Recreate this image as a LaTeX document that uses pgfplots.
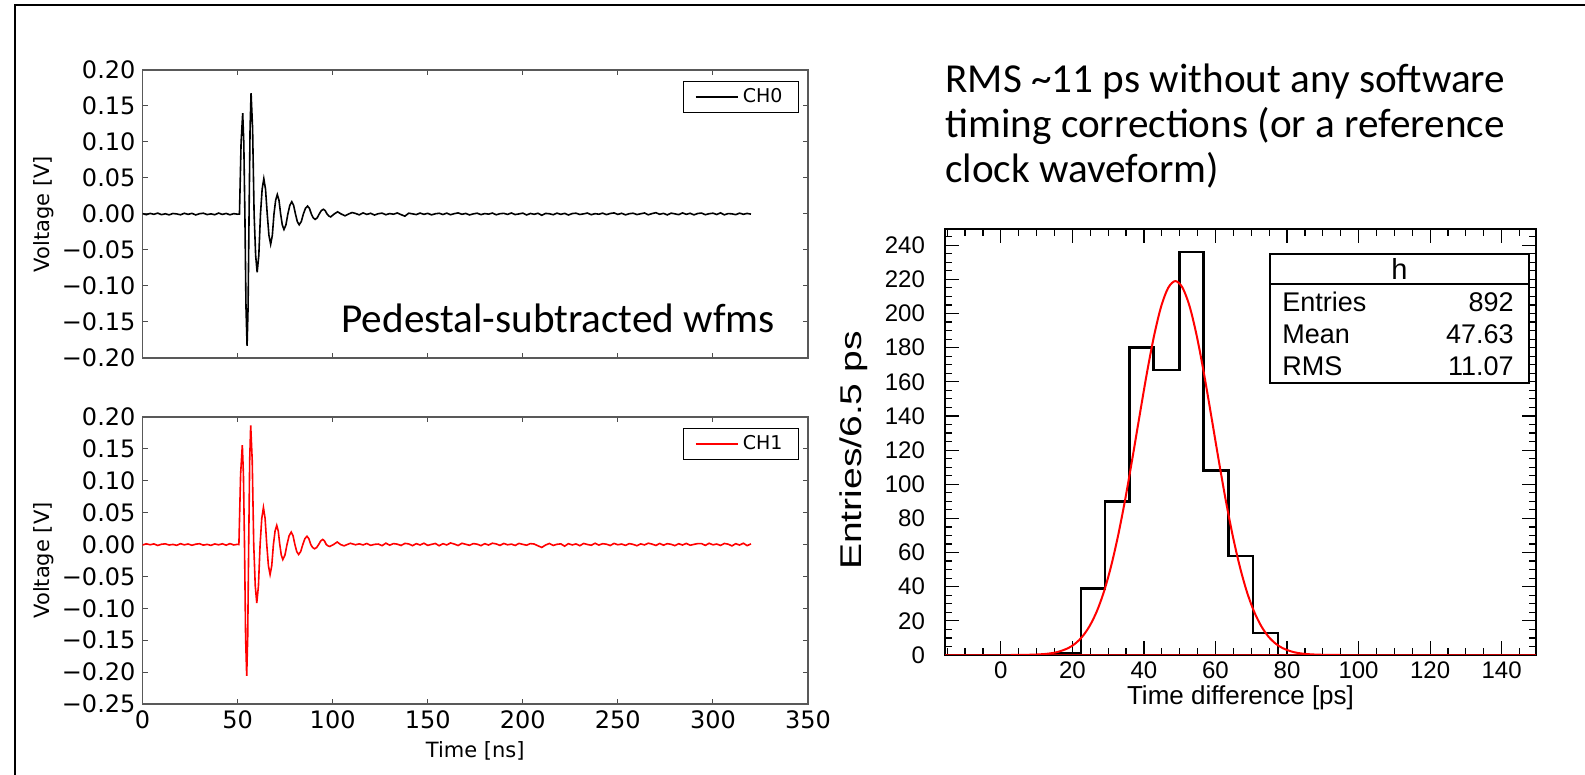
\documentclass[border=0pt]{standalone}
\usepackage{fontspec}
\usepackage{pgfplots}
\pgfplotsset{compat=1.18}
\setmainfont{DejaVu Sans}
\newfontfamily\carlito{Carlito}
\newfontfamily\helv{Liberation Sans}
\newfontfamily\dejavu{DejaVu Sans}

\pgfplotsset{
  mpl/.style={
    scale only axis,
    xmin=0, xmax=350,
    xtick={0,50,100,150,200,250,300,350},
    tick align=inside,
    major tick length=2.5pt,
    axis line style={black!65, line width=0.6pt},
    every tick/.style={black!70, line width=0.5pt},
    tick label style={font=\dejavu\fontsize{12}{12}\selectfont},
    every axis y label/.style={at={(axis description cs:-0.148,0.5)}, rotate=90, anchor=center, font=\dejavu\fontsize{10.5}{11}\selectfont},
    legend style={at={(axis description cs:1,1)}, xshift=-4.5pt, yshift=-5.5pt, anchor=north east,
      draw=black, line width=0.6pt, font=\dejavu\fontsize{9.5}{10}\selectfont, inner xsep=6pt, inner ysep=1.5pt,
      cells={anchor=west}},
    legend image code/.code={\draw[#1, line width=0.8pt] (0pt,0pt) -- (15pt,0pt); \path (0pt,0pt) -- (21pt,0pt);},
  }
}

\begin{document}
\begin{tikzpicture}
\useasboundingbox (0,0) rectangle (792.5pt,387.5pt);
\draw[line width=1pt] (7.5pt,-2pt) -- (7.5pt,385pt) -- (795pt,385pt);

% ---------------- top waveform (CH0)
\begin{axis}[mpl,
  at={(71.25pt,208.5pt)}, anchor=south west,
  width=332.75pt, height=144pt,
  ymin=-0.2, ymax=0.2,
  xticklabels={},
  ytick={-0.2,-0.15,-0.1,-0.05,0,0.05,0.1,0.15,0.2},
  yticklabels={−0.20,−0.15,−0.10,−0.05,0.00,0.05,0.10,0.15,0.20},
  ylabel={Voltage [V]},
]
\addplot[black, line width=0.8pt] coordinates {
(0,0.0006)(2,-0.0010)(4,0.0008)(6,-0.0004)(8,0.0012)(10,-0.0009)(12,0.0003)(14,-0.0012)(16,0.0007)(18,0.0001)(20,-0.0011)(22,0.0010)(24,-0.0005)(26,0.0009)(28,-0.0013)(30,0.0004)(32,0.0011)(34,-0.0008)(36,0.0002)(38,-0.0010)(40,0.0013)(42,-0.0006)(44,0.0008)(46,-0.0011)(48,0.0005)(50,-0.0003)
(51.0,0.0000)(51.85,0.0990)(52.7,0.1400)(53.275,0.0990)(53.85,0)(54.425,-0.1294)(55.0,-0.1830)(55.525,-0.1294)(56.05,0)(56.575,0.1188)(57.1,0.1680)(57.9,0.1188)(58.7,0)(59.5,-0.0573)(60.3,-0.0810)(61.175,-0.0573)(62.05,0)(62.925,0.0346)(63.8,0.0490)(64.7,0.0346)(65.6,0)(66.5,-0.0297)(67.4,-0.0420)(68.275,-0.0297)(69.15,0)(70.025,0.0191)(70.9,0.0270)(71.775,0.0191)(72.65,0)(73.525,-0.0152)(74.4,-0.0215)(75.425,-0.0152)(76.45,0)(77.475,0.0120)(78.5,0.0170)(79.475,0.0120)(80.45,0)(81.425,-0.0106)(82.4,-0.0150)(83.5,-0.0106)(84.6,0)(85.7,0.0078)(86.8,0.0110)(87.8,0.0078)(88.8,0)(89.8,-0.0053)(90.8,-0.0075)(91.875,-0.0053)(92.95,0)(94.025,0.0047)(95.1,0.0066)(96.1,0.0047)(97.05,0)(98.0,-0.0028)(99.0,-0.0040)(100.8,0)(102.6,0.0030)(104.5,0)(106.5,-0.0025)(108.4,0)(110.2,0.0020)
(112,0.0008)(114,-0.0012)(116,0.0015)(118,-0.0006)(120,0.0010)(122,-0.0015)(124,0.0004)(126,0.0012)(128,-0.0010)(130,0.0006)(132,-0.0003)(134,0.0014)(136,-0.0009)(138,-0.0030)(140,0.0011)(142,0.0002)(144,-0.0008)(146,0.0013)(148,-0.0005)(150,0.0009)(152,-0.0012)(154,0.0003)(156,0.0010)(158,-0.0007)(160,0.0012)(162,-0.0010)(164,0.0005)(166,0.0015)(168,-0.0004)(170,0.0008)(172,-0.0013)(174,0.0002)(176,0.0011)(178,-0.0009)(180,0.0006)(182,-0.0002)(184,0.0013)(186,-0.0011)(188,0.0004)(190,0.0009)(192,-0.0006)(194,0.0014)(196,-0.0008)(198,0.0001)(200,0.0012)(202,-0.0013)(204,0.0007)(206,-0.0004)(208,0.0010)(210,-0.0018)(212,0.0008)(214,0.0003)(216,-0.0010)(218,0.0012)(220,-0.0005)(222,0.0009)(224,-0.0014)(226,0.0006)(228,0.0011)(230,-0.0007)(232,0.0002)(234,0.0013)(236,-0.0010)(238,0.0005)(240,-0.0003)(242,0.0012)(244,-0.0009)(246,0.0007)(248,0.0015)(250,-0.0006)(252,0.0010)(254,-0.0012)(256,0.0004)(258,0.0011)(260,-0.0008)(262,0.0003)(264,0.0014)(266,-0.0011)(268,0.0006)(270,0.0018)(272,-0.0004)(274,0.0009)(276,-0.0013)(278,0.0012)(280,0.0002)(282,-0.0009)(284,0.0015)(286,-0.0005)(288,0.0010)(290,-0.0012)(292,0.0007)(294,0.0013)(296,-0.0010)(298,0.0004)(300,0.0011)(302,-0.0007)(304,0.0016)(306,-0.0012)(308,0.0006)(310,0.0002)(312,-0.0009)(314,0.0012)(316,-0.0004)(318,0.0008)(320,-0.0002)
};
\addlegendentry{CH0}
\end{axis}

% ---------------- bottom waveform (CH1)
\begin{axis}[mpl,
  at={(71.25pt,35.5pt)}, anchor=south west,
  width=332.75pt, height=143.5pt,
  ymin=-0.25, ymax=0.2,
  xticklabels={0,50,100,150,200,250,300,350},
  ytick={-0.25,-0.2,-0.15,-0.1,-0.05,0,0.05,0.1,0.15,0.2},
  yticklabels={−0.25,−0.20,−0.15,−0.10,−0.05,0.00,0.05,0.10,0.15,0.20},
  ylabel={Voltage [V]},
  xlabel={Time [ns]},
  every axis x label/.style={at={(axis description cs:0.5,-0.164)}, anchor=center, font=\dejavu\fontsize{10.5}{11}\selectfont},
]
\addplot[red, line width=0.8pt] coordinates {
(0,-0.0008)(2,0.0012)(4,-0.0003)(6,0.0010)(8,-0.0014)(10,0.0005)(12,0.0011)(14,-0.0007)(16,0.0002)(18,-0.0012)(20,0.0014)(22,-0.0005)(24,0.0009)(26,-0.0011)(28,0.0006)(30,0.0013)(32,-0.0009)(34,0.0003)(36,-0.0013)(38,0.0010)(40,-0.0004)(42,0.0012)(44,-0.0010)(46,0.0015)(48,-0.0006)(50,0.0004)
(50.7,0.0000)(51.6,0.1103)(52.5,0.1560)(53.075,0.1103)(53.65,0)(54.225,-0.1456)(54.8,-0.2060)(55.325,-0.1456)(55.85,0)(56.375,0.1322)(56.9,0.1870)(57.7,0.1322)(58.5,0)(59.3,-0.0648)(60.1,-0.0916)(60.975,-0.0648)(61.85,0)(62.725,0.0410)(63.6,0.0580)(64.475,0.0410)(65.35,0)(66.225,-0.0332)(67.1,-0.0470)(67.975,-0.0332)(68.85,0)(69.725,0.0212)(70.6,0.0300)(71.4,0.0212)(72.2,0)(73.0,-0.0166)(73.8,-0.0235)(74.9,-0.0166)(76.0,0)(77.1,0.0138)(78.2,0.0195)(79.175,0.0138)(80.15,0)(81.125,-0.0110)(82.1,-0.0156)(83.2,-0.0110)(84.3,0)(85.4,0.0092)(86.5,0.0130)(87.5,0.0092)(88.5,0)(89.5,-0.0047)(90.5,-0.0066)(91.575,-0.0047)(92.65,0)(93.725,0.0057)(94.8,0.0080)(95.7,0.0057)(96.65,0)(97.6,-0.0021)(98.5,-0.0030)(100.45,0)(102.4,0.0040)(104.2,0)(106.0,-0.0020)(107.65,0)(109.3,0.0020)
(112,-0.0003)(114,0.0011)(116,-0.0006)(118,0.0017)(120,-0.0013)(122,0.0003)(124,0.0008)(126,-0.0017)(128,0.0022)(130,-0.0010)(132,0.0015)(134,0.0006)(136,-0.0014)(138,0.0018)(140,0.0010)(142,-0.0017)(144,0.0014)(146,-0.0007)(148,0.0021)(150,-0.0013)(152,0.0003)(154,0.0017)(156,-0.0018)(158,0.0013)(160,-0.0006)(162,0.0025)(164,0.0008)(166,-0.0015)(168,0.0020)(170,0.0004)(172,-0.0011)(174,0.0015)(176,0.0006)(178,-0.0017)(180,0.0014)(182,-0.0008)(184,0.0021)(186,0.0010)(188,-0.0013)(190,0.0017)(192,-0.0004)(194,0.0007)(196,-0.0014)(198,0.0018)(200,0.0003)(202,-0.0010)(204,0.0015)(206,0.0008)(208,-0.0020)(210,-0.0045)(212,-0.0007)(214,0.0017)(216,-0.0014)(218,0.0004)(220,0.0011)(222,-0.0025)(224,0.0014)(226,-0.0006)(228,0.0010)(230,-0.0018)(232,0.0017)(234,0.0001)(236,-0.0011)(238,0.0020)(240,-0.0008)(242,0.0013)(244,0.0006)(246,-0.0015)(248,0.0018)(250,-0.0003)(252,0.0008)(254,-0.0013)(256,0.0015)(258,0.0003)(260,-0.0018)(262,0.0011)(264,-0.0006)(266,0.0021)(268,0.0007)(270,-0.0014)(272,0.0017)(274,-0.0010)(276,0.0014)(278,0.0004)(280,-0.0017)(282,0.0013)(284,-0.0007)(286,0.0018)(288,-0.0011)(290,0.0003)(292,0.0015)(294,0.0015)(296,-0.0013)(298,0.0020)(300,-0.0004)(302,0.0008)(304,-0.0014)(306,0.0017)(308,0.0006)(310,-0.0021)(312,0.0014)(314,-0.0008)(316,0.0021)(318,-0.0017)(320,0.0011)
};
\addlegendentry{CH1}
\end{axis}

% ---------------- histogram
\begin{axis}[
  at={(472.5pt,60pt)}, anchor=south west,
  scale only axis, width=295.5pt, height=213pt,
  xmin=-15.6, xmax=149.6, ymin=0, ymax=249.5,
  xtick={0,20,40,60,80,100,120,140},
  ytick={0,20,40,60,80,100,120,140,160,180,200,220,240},
  minor xtick={-15,-10,-5,5,10,15,25,30,35,45,50,55,65,70,75,85,90,95,105,110,115,125,130,135,145},
  minor ytick={5,10,15,25,30,35,45,50,55,65,70,75,85,90,95,105,110,115,125,130,135,145,150,155,165,170,175,185,190,195,205,210,215,225,230,235,245},
  tick align=inside,
  major tick length=7pt, minor tick length=3.5pt,
  axis line style={black, line width=0.7pt},
  every tick/.style={black, line width=0.6pt},
  /pgf/number format/assume math mode=true,
  tick label style={font=\helv\fontsize{12}{12}\selectfont},
  yticklabel style={xshift=-6.5pt},
  xlabel={Time difference [ps]},
  ylabel={\scalebox{1.3}[1]{Entries/6.5 ps}},
  every axis x label/.style={at={(axis description cs:0.5,-0.1)}, anchor=center, font=\helv\fontsize{13}{14}\selectfont},
  every axis y label/.style={at={(axis description cs:-0.155,0.48)}, rotate=90, anchor=center, font=\helv\fontsize{15}{16}\selectfont},
]
\addplot[black, line width=1.2pt, const plot mark left] coordinates {
(-15.6,0)(15.6,1)(22.4,39)(29.1,90)(36.0,180)(42.7,167)(49.9,236)(56.7,108)(63.6,58)(70.5,13)(77.5,0)(149.6,0)
};
\addplot[red!75!black, line width=1pt] coordinates {(-15.6,0)(149.6,0)};
\addplot[red, line width=1pt, smooth] coordinates {
(2.8,0.02)(8.8,0.18)(12.8,0.69)(15.8,1.72)(18.8,3.99)(20.8,6.69)(22.8,10.8)(24.8,16.9)(26.8,25.4)(28.8,36.9)(30.8,51.8)(32.8,70.1)(34.8,91.5)(36.8,115.4)(38.8,140.3)(40.8,164.7)(42.8,186.6)(44.8,204.0)(46.8,215.1)(48.8,219)(50.8,215.1)(52.8,204.0)(54.8,186.6)(56.8,164.7)(58.8,140.3)(60.8,115.4)(62.8,91.5)(64.8,70.1)(66.8,51.8)(68.8,36.9)(70.8,25.4)(72.8,16.9)(74.8,10.8)(76.8,6.69)(78.8,3.99)(81.8,1.72)(84.8,0.69)(88.8,0.18)(94.8,0.02)
};
\end{axis}

% stats box
\draw[line width=0.8pt, fill=white] (635pt,196pt) rectangle (764.5pt,260.5pt);
\draw[line width=0.8pt] (635pt,245.5pt) -- (764.5pt,245.5pt);
\begin{scope}[every node/.style={inner sep=0pt, font=\helv\fontsize{13.5}{13.5}\selectfont}]
\node[font=\helv\fontsize{14.5}{14.5}\selectfont] at (699.75pt,253pt) {h};
\node[anchor=base west] at (641pt,231.5pt) {Entries};
\node[anchor=base east] at (757pt,231.5pt) {892};
\node[anchor=base west] at (641pt,215.5pt) {Mean};
\node[anchor=base east] at (757pt,215.5pt) {47.63};
\node[anchor=base west] at (641pt,199.5pt) {RMS};
\node[anchor=base east] at (757pt,199.5pt) {11.07};
\end{scope}

% annotations
\begin{scope}[every node/.style={inner sep=0pt, anchor=base west, font=\carlito\fontsize{20.6}{24}\selectfont}]
\node at (472.5pt,341pt) {RMS \textasciitilde11 ps without any software};
\node at (472.5pt,318.5pt) {timing corrections (or a reference};
\node at (472.5pt,296pt) {clock waveform)};
\node at (170.5pt,221pt) {Pedestal-subtracted wfms};
\end{scope}
\end{tikzpicture}
\end{document}
